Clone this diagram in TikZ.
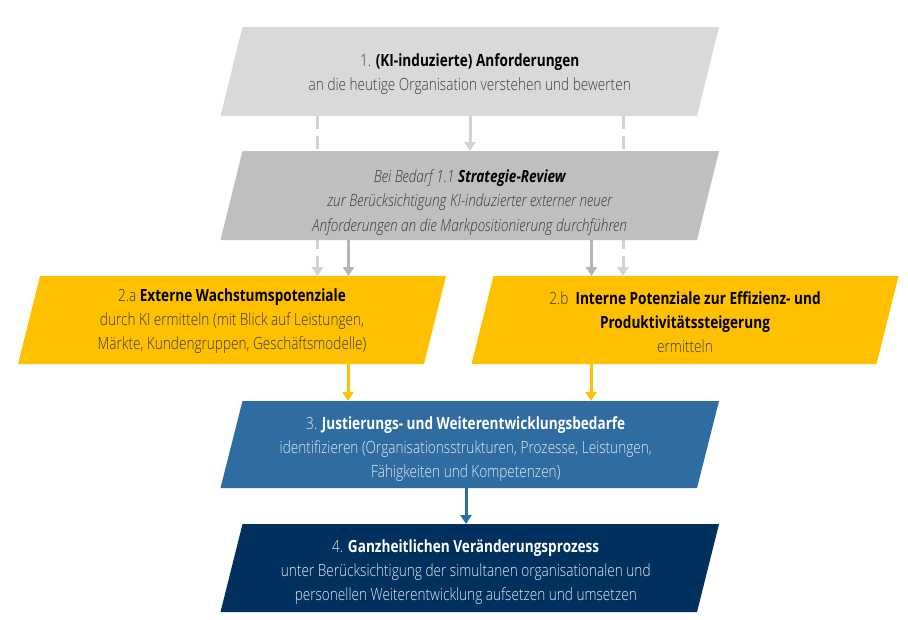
\documentclass[tikz,border=0pt]{standalone}
\usepackage{fontspec}
\IfFontExistsTF{Open Sans Light}{%
  \setmainfont{Open Sans Light}[FakeStretch=0.81,BoldFont={Open Sans Bold},ItalicFont={Open Sans Light Italic},BoldItalicFont={Open Sans Bold Italic}]%
}{%
  \setmainfont{Open Sans}[FakeStretch=0.8]%
}
\usetikzlibrary{arrows.meta,backgrounds}
\definecolor{boxgrayA}{HTML}{D9D9D9}
\definecolor{boxgrayB}{HTML}{BFBFBF}
\definecolor{boxyellow}{HTML}{FFC000}
\definecolor{boxblue}{HTML}{2F6CA2}
\definecolor{boxnavy}{HTML}{00305E}
\definecolor{arrlight}{HTML}{D2D2D2}
\definecolor{arrgray}{HTML}{B4B4B4}
\definecolor{txtdark}{HTML}{3A3A3A}
\definecolor{txtlight}{HTML}{E4ECF4}
\newcommand\pgfillbox[2]{\fill[#2] ([xshift=11pt]#1.north west) -- ([xshift=11pt]#1.north east) -- ([xshift=-11pt]#1.south east) -- ([xshift=-11pt]#1.south west) -- cycle;}
\begin{document}
\begin{tikzpicture}[x=1pt,y=-1pt,
  boxshape/.style={rectangle,inner sep=0pt,outer sep=0pt,minimum width=#1},
  txt/.style={align=center,font=\fontsize{16.8}{24}\selectfont,inner sep=0pt},
  conn/.style={line width=3pt,-{Triangle[width=11pt,length=9pt]}},
  dashconn/.style={conn,arrlight,dash pattern=on 13pt off 7pt}]
\useasboundingbox (0,0) rectangle (908,619);
% boxes
\node[boxshape=476.5pt,minimum height=89pt] (b1) at (469.75,71.5) {};
\node[boxshape=476.5pt,minimum height=89pt] (b11) at (469.75,195.5) {};
\node[boxshape=406pt,minimum height=88pt] (b2a) at (232,320) {};
\node[boxshape=405pt,minimum height=88pt] (b2b) at (685,320) {};
\node[boxshape=476.5pt,minimum height=87pt] (b3) at (469.75,444.5) {};
\node[boxshape=476.5pt,minimum height=88pt] (b4) at (469.75,568) {};
% x positions of connectors
\coordinate (xda) at (317.5,0);
\coordinate (xsa) at (348.5,0);
\coordinate (xc) at (470,0);
\coordinate (xsb) at (591.5,0);
\coordinate (xdb) at (623,0);
\coordinate (xya) at (348,0);
\coordinate (xyb) at (591,0);
\coordinate (xbl) at (466,0);
\begin{scope}[on background layer]
\fill[white] (0,0) rectangle (908,619);
\pgfillbox{b1}{boxgrayA}
\draw[dashconn] (b1.south -| xda) -- (b2a.north -| xda);
\draw[dashconn] (b1.south -| xdb) -- (b2b.north -| xdb);
\pgfillbox{b11}{boxgrayB}
\pgfillbox{b2a}{boxyellow}
\pgfillbox{b2b}{boxyellow}
\pgfillbox{b3}{boxblue}
\pgfillbox{b4}{boxnavy}
\end{scope}
% connectors
\draw[conn,arrlight] (b1.south -| xc) -- (b11.north -| xc);
\draw[conn,arrgray] (b11.south -| xsa) -- (b2a.north -| xsa);
\draw[conn,arrgray] (b11.south -| xsb) -- (b2b.north -| xsb);
\draw[conn,boxyellow] (b2a.south -| xya) -- (b3.north -| xya);
\draw[conn,boxyellow] (b2b.south -| xyb) -- (b3.north -| xyb);
\draw[conn,boxblue] (b3.south -| xbl) -- (b4.north -| xbl);
% texts
\node[txt,text=txtdark] (t1) at ([yshift=-3pt]b1.center) {1. \textbf{\color{black}(KI-induzierte) Anforderungen}\\an die heutige Organisation verstehen und bewerten};
\node[txt,text=txtdark,font=\fontsize{16.8}{24.5}\selectfont\itshape] (t11) at ([yshift=-7pt]b11.center) {Bei Bedarf 1.1 \textbf{\color{black}Strategie-Review}\\zur Berücksichtigung KI-induzierter externer neuer\\Anforderungen an die Markpositionierung durchführen};
\node[txt,text=txtdark] (t2a) at ([yshift=-1pt]b2a.center) {2.a \textbf{\color{black}Externe Wachstumspotenziale}\\durch KI ermitteln (mit Blick auf Leistungen,\\Märkte, Kundengruppen, Geschäftsmodelle)};
\node[txt,text=txtdark] (t2b) at ([yshift=-2pt]b2b.center) {2.b~ \textbf{\color{black}Interne Potenziale zur Effizienz- und}\\\textbf{\color{black}Produktivitätssteigerung}\\ermitteln};
\node[txt,text=txtlight] (t3) at ([xshift=-4pt,yshift=-5pt]b3.center) {3. \textbf{\color{white}Justierungs- und Weiterentwicklungsbedarfe}\\identifizieren (Organisationsstrukturen, Prozesse, Leistungen,\\Fähigkeiten und Kompetenzen)};
\node[txt,text=txtlight] (t4) at ([xshift=-4pt,yshift=-4.5pt]b4.center) {4. \textbf{\color{white}Ganzheitlichen Veränderungsprozess}\\unter Berücksichtigung der simultanen organisationalen und\\personellen Weiterentwicklung aufsetzen und umsetzen};
\end{tikzpicture}
\end{document}
